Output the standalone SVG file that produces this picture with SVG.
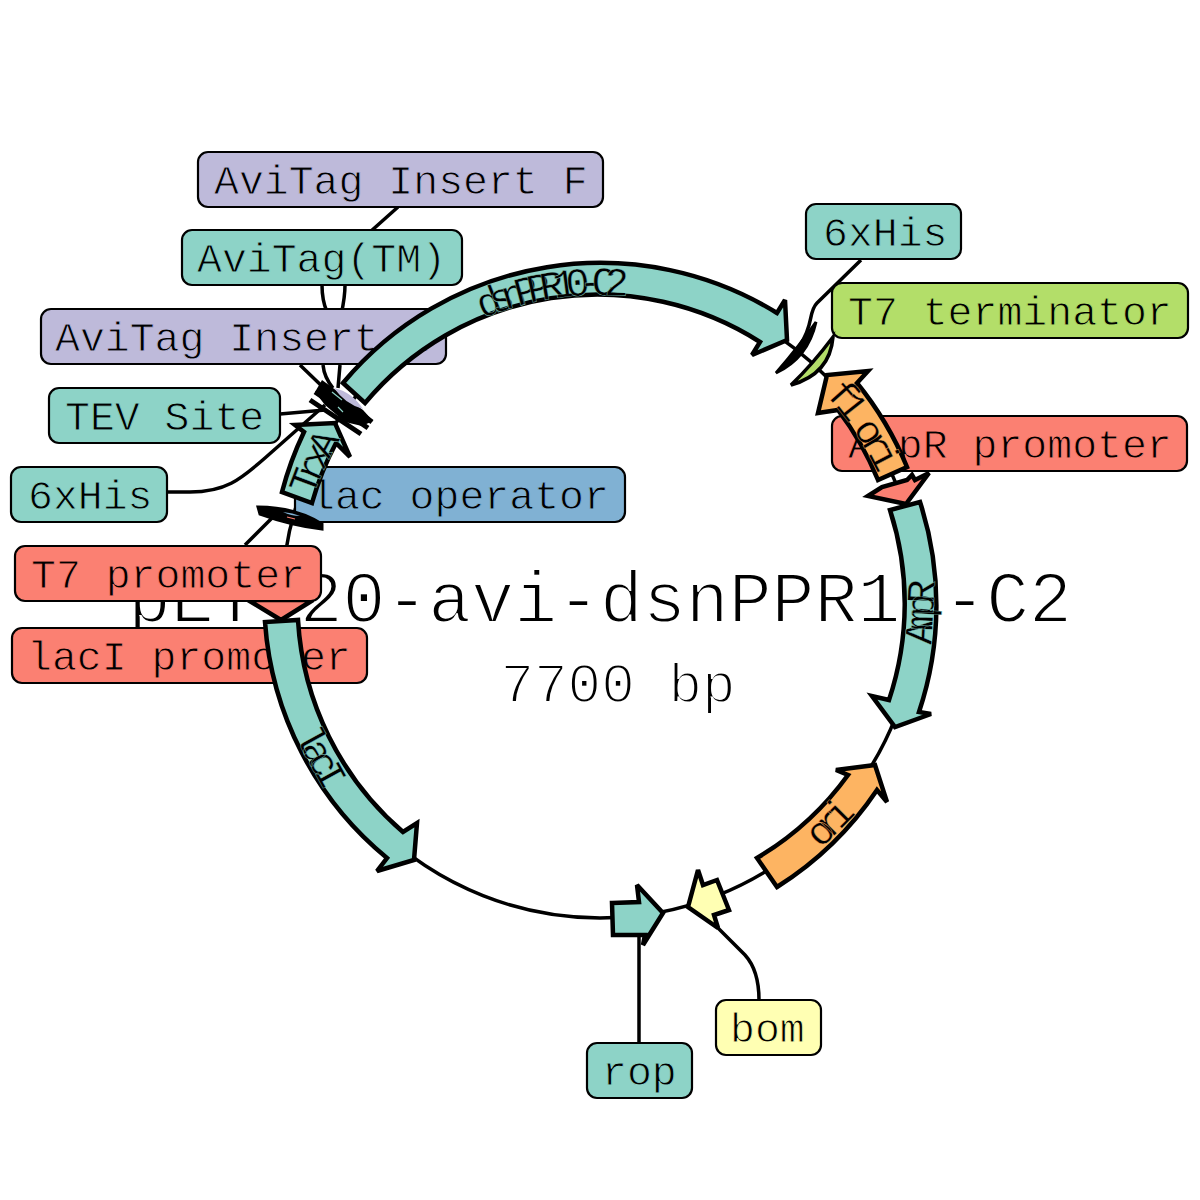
<svg xmlns="http://www.w3.org/2000/svg" width="1200" height="1200" viewBox="0 0 1200 1200">
<style>
.box{stroke:#000;stroke-width:2.2;}
.lbl{font-family:"Liberation Mono",monospace;font-size:41.5px;fill:#000;stroke-width:.9px;}
.ttl{font-family:"Liberation Mono",monospace;fill:#000;text-anchor:middle;stroke:#fff;stroke-width:2px;}
.f{stroke:#000;stroke-width:4.5;stroke-linejoin:miter;stroke-miterlimit:3;}
.ln{fill:none;stroke:#000;stroke-width:3.5;}
.tick{fill:none;stroke:#000;stroke-width:5;}
.ft{font-family:"Liberation Mono",monospace;font-size:40px;fill:#000;letter-spacing:-10.5px;stroke-width:.4px;}
.mid{text-anchor:middle;}
.teal{fill:#8dd3c7}.lav{fill:#bebada}.green{fill:#b3de69}.red{fill:#fb8072}.blue{fill:#80b1d3}.orange{fill:#fdb462}.yellow{fill:#ffffb3}
.st{stroke:#8dd3c7}.sl{stroke:#bebada}.sg{stroke:#b3de69}.sr{stroke:#fb8072}.sb{stroke:#80b1d3}.so{stroke:#fdb462}.sy{stroke:#ffffb3}
</style>
<defs>
<path id="cw" d="M295,600 A305,305 0 1 1 905,600 A305,305 0 1 1 295,600"/>
</defs>
<rect width="1200" height="1200" fill="#fff"/>
<g id="connectors">
<circle class="ln" cx="600" cy="600" r="318"/>
<path class="ln" d="M398,207 L370,232 C350,252 345,265 345,285 C345,300 342,310 340,320"/>
<path class="ln" d="M322,285 C322,295 324,305 327,312"/>
<path class="ln" d="M300,365 L328,392 M323,365 C324,375 328,382 333,388 M340,365 L338,388"/>
<path class="ln" d="M280,414 L325,410"/>
<path class="ln" d="M167,492 L190,492 C225,492 240,480 265,458 L325,405"/>
<path class="ln" d="M245,545 L273,517"/>
<path class="ln" d="M861,260 L817,303 C808,312 814,325 800,345"/>
<path class="ln" d="M639,1043 L639,935"/>
<path class="ln" d="M718,928 L745,955 C755,966 759,980 759,1000"/>
</g>
<text class="ttl" x="600" y="622" font-size="71.5">pET-20-avi-dsnPPR10-C2</text>
<text class="ttl" x="618" y="702" font-size="56">7700 bp</text>
<g id="n-avif"><rect class="box lav" x="198" y="152" width="405" height="55" rx="10"/><text class="lbl sl" x="214" y="194">AviTag Insert F</text></g>
<g id="n-avitm"><rect class="box teal" x="182" y="230" width="280" height="55" rx="10"/><text class="lbl st" x="197" y="272">AviTag(TM)</text></g>
<g id="n-avir"><rect class="box lav" x="41" y="309" width="405" height="55" rx="10"/><text class="lbl sl" x="55" y="351">AviTag Insert R</text></g>
<g id="n-tev"><rect class="box teal" x="49" y="388" width="231" height="55" rx="10"/><text class="lbl st" x="65" y="430">TEV Site</text></g>
<g id="n-his1"><rect class="box teal" x="11" y="467" width="156" height="55" rx="10"/><text class="lbl st" x="28" y="509">6xHis</text></g>
<g id="n-lacop"><rect class="box blue" x="295" y="467" width="330" height="55" rx="10"/><text class="lbl sb" x="310" y="509">lac operator</text></g>
<g id="n-lacip"><rect class="box red" x="12" y="628" width="355" height="55" rx="10"/><text class="lbl sr" x="27" y="670">lacI promoter</text></g>
<g id="n-ampp"><rect class="box red" x="832" y="416" width="355" height="55" rx="10"/><text class="lbl sr" x="848" y="458">AmpR promoter</text></g>
<g id="n-t7t"><rect class="box green" x="832" y="283" width="356" height="55" rx="10"/><text class="lbl sg" x="848" y="325">T7 terminator</text></g>
<g id="n-his2"><rect class="box teal" x="806" y="204" width="155" height="55" rx="10"/><text class="lbl st" x="823" y="246">6xHis</text></g>
<g id="n-rop"><rect class="box teal" x="587" y="1043" width="105" height="55" rx="10"/><text class="lbl st" x="602" y="1085">rop</text></g>
<g id="n-bom"><rect class="box yellow" x="716" y="1000" width="105" height="55" rx="10"/><text class="lbl sy" x="730" y="1042">bom</text></g>
<g id="f-dsn"><path class="f teal" d="M343,383 A336,336 0 0 1 777,313 L785,300 L787,340 L752,355 L760,342 A303,303 0 0 0 365,403 Z"/><text class="ft st" style="letter-spacing:-11.5px"><textPath href="#cw" startOffset="358">dsnPPR10-C2</textPath></text></g>
<g id="f-trxa"><path class="f teal" d="M282,492 A336,336 0 0 1 304,432 L295,425 L335,423 L350,457 L336,443 A304,304 0 0 0 312,503 Z"/><text class="ft st"><textPath href="#cw" startOffset="105">TrxA</textPath></text></g>
<g id="f-ticks">
<path class="tick" d="M322,384 L372,422 M315,392 L368,428 M310,400 L361,434"/>
<path fill="#000" d="M322,380 L363,410 L373,421 L362,426 L345,422 L325,405 L315,392 Z"/>
<path class="lav" d="M334,388 Q352,392 363,409 Q345,404 334,388 Z"/>
<path fill="none" stroke="#8dd3c7" stroke-width="1.2" d="M332,392 L342,400 M338,407 L343,412"/>
<path fill="#000" stroke="#000" stroke-width="3" d="M258,507 Q295,507 322,524 L322,529 Q290,525 260,514 Z"/>
<path class="blue" d="M283,512 Q293,513 300,516 Q291,516 283,512 Z"/>
<path fill="none" stroke="#fb8072" stroke-width="1.2" d="M287,517 L295,519"/>
<path fill="#000" stroke="#000" stroke-width="3" d="M816,322 Q808,358 776,373 Q800,345 816,322 Z"/>
<path class="green" stroke="#000" stroke-width="3.5" stroke-linejoin="miter" d="M833,337 Q830,374 791,385 Q812,365 833,337 Z"/>
</g>
<g id="f-f1"><path class="f orange" d="M907,467 A336,336 0 0 0 857,383 L868,371 L827,375 L818,413 L838,410 A304,304 0 0 1 878,480 Z"/><text class="ft so" style="letter-spacing:-9.5px"><textPath href="#cw" startOffset="732">f1 ori</textPath></text></g>
<g id="f-ampp"><path class="f red" d="M868,496 L882,487 L907,480 L912,475 L915,480 L929,473 L906,504 Z"/></g>
<g id="f-amp"><path class="f teal" d="M920,502 A335,335 0 0 1 919,712 L931,714 L895,727 L872,696 L889,700 A304,304 0 0 0 890,510 Z"/><text class="ft st mid" transform="translate(933,618) rotate(-87)">AmpR</text></g>
<g id="f-ori"><path class="f orange" d="M777,887 A336,336 0 0 0 877,790 L887,802 L875,765 L836,770 L848,775 A303,303 0 0 1 757,858 Z"/><text class="ft so mid" transform="translate(835,835) rotate(-45)">ori</text></g>
<g id="f-bom"><path class="f yellow" d="M698,870 L703,885 L717,880 L729,910 L714,915 L718,928 L688,907 Z"/></g>
<g id="f-rop"><path class="f teal" d="M612,903 L639,902 L637,885 L663,913 L643,945 L645,935 L613,935 Z"/></g>
<g id="f-laci"><path class="f teal" d="M265,622 A336,336 0 0 0 387,858 L377,871 L414,860 L417,823 L403,832 A303,303 0 0 1 298,620 Z"/><text class="ft st mid" transform="translate(307,759) rotate(61.5)">lacI</text></g>
<g id="f-t7p"><path class="f red" d="M248,600 L313,600 L281,620 Z"/></g>
<g id="n-t7p"><rect class="box red" x="15" y="546" width="306" height="55" rx="10"/><text class="lbl sr" x="31" y="588">T7 promoter</text></g>
</svg>
